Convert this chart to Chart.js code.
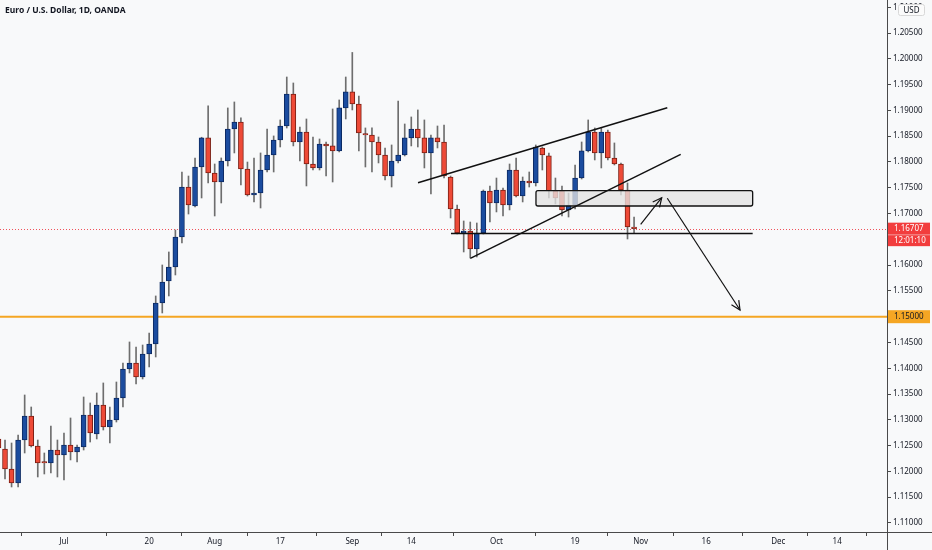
<!DOCTYPE html>
<html>
<head>
<meta charset="utf-8">
<script src="https://cdn.jsdelivr.net/npm/chart.js@4.4.0/dist/chart.umd.min.js"></script>
<style>
  html, body { margin: 0; padding: 0; background: #f8f9fa; }
  #wrap { width: 932px; height: 550px; position: relative; }
</style>
</head>
<body>
<div id="wrap"><canvas id="chart"></canvas></div>
<script>
// EUR/USD daily, 17 Jun - 30 Oct 2020 (one entry per trading day)
var opens = [
  1.12629, 1.12435, 1.12047, 1.11776, 1.12609, 1.13075, 1.12493, 1.12183, 1.12163, 1.12415,
  1.12319, 1.12512, 1.12377, 1.12474, 1.13094, 1.12726, 1.13288, 1.12861, 1.12997, 1.13424,
  1.13986, 1.14102, 1.13831, 1.14277, 1.14471, 1.15266, 1.15692, 1.15964, 1.16545, 1.17515,
  1.17147, 1.17903, 1.18466, 1.17787, 1.17612, 1.18019, 1.18640, 1.18776, 1.17864, 1.17360,
  1.17399, 1.17845, 1.18136, 1.18427, 1.18698, 1.19318, 1.18388, 1.18582, 1.17961, 1.17884,
  1.18349, 1.18311, 1.18214, 1.19048, 1.19358, 1.19125, 1.18543, 1.18524, 1.18388, 1.18136,
  1.17728, 1.18019, 1.18136, 1.18466, 1.18640, 1.18466, 1.18175, 1.18466, 1.18388, 1.17709,
  1.17089, 1.16623, 1.16662, 1.16313, 1.16623, 1.17437, 1.17205, 1.17457, 1.17166, 1.17845,
  1.17341, 1.17631, 1.17593, 1.18272, 1.18117, 1.17437, 1.17437, 1.17070, 1.17166, 1.17689,
  1.18214, 1.18582, 1.18175, 1.18582, 1.18078, 1.17961, 1.17457, 1.16739
];
var highs = [
  1.12687, 1.12609, 1.12551, 1.12706, 1.13482, 1.13249, 1.12609, 1.12357, 1.12881, 1.12609,
  1.12745, 1.13036, 1.12512, 1.13443, 1.13327, 1.13521, 1.13715, 1.13249, 1.13734, 1.14102,
  1.14510, 1.14413, 1.14451, 1.14684, 1.15402, 1.16003, 1.16255, 1.16681, 1.17806, 1.17728,
  1.18078, 1.18480, 1.19087, 1.17961, 1.18078, 1.19048, 1.19164, 1.18854, 1.17999, 1.18078,
  1.18175, 1.18640, 1.18505, 1.18815, 1.19648, 1.19532, 1.18679, 1.18834, 1.18485, 1.18446,
  1.18388, 1.19028, 1.19203, 1.19648, 1.20124, 1.19280, 1.18660, 1.18660, 1.18485, 1.18272,
  1.18330, 1.19183, 1.18737, 1.18873, 1.19009, 1.18815, 1.18524, 1.18698, 1.18718, 1.17728,
  1.17166, 1.16856, 1.16836, 1.16817, 1.17457, 1.17534, 1.17689, 1.17496, 1.17961, 1.18078,
  1.17709, 1.17806, 1.18330, 1.18291, 1.18175, 1.17689, 1.17534, 1.17399, 1.17942, 1.18388,
  1.18815, 1.18660, 1.18660, 1.18621, 1.18369, 1.17980, 1.17593, 1.16933
];
var lows = [
  1.12377, 1.11853, 1.11698, 1.11698, 1.12357, 1.12474, 1.11892, 1.11950, 1.11970, 1.11892,
  1.11834, 1.12222, 1.12183, 1.12415, 1.12570, 1.12629, 1.12803, 1.12551, 1.12958, 1.13249,
  1.13909, 1.13695, 1.13792, 1.14025, 1.14219, 1.15072, 1.15402, 1.15809, 1.16429, 1.16991,
  1.17128, 1.17302, 1.17593, 1.16953, 1.17205, 1.17922, 1.18175, 1.17554, 1.17340, 1.17225,
  1.17108, 1.17806, 1.17806, 1.18291, 1.18659, 1.18311, 1.18020, 1.17535, 1.17845, 1.17845,
  1.17728, 1.17612, 1.18195, 1.18834, 1.19009, 1.18214, 1.17903, 1.17806, 1.17981, 1.17650,
  1.17515, 1.17981, 1.18117, 1.18311, 1.18291, 1.17884, 1.17379, 1.18272, 1.17689, 1.16914,
  1.16604, 1.16255, 1.16139, 1.16158, 1.16604, 1.16836, 1.17031, 1.16953, 1.17070, 1.17321,
  1.17225, 1.17515, 1.17534, 1.17845, 1.17302, 1.17186, 1.16953, 1.16933, 1.17089, 1.17670,
  1.18195, 1.18039, 1.17884, 1.18039, 1.17942, 1.17360, 1.16507, 1.16623
];
var closes = [
  1.12454, 1.12047, 1.11776, 1.12609, 1.13075, 1.12493, 1.12163, 1.12163, 1.12415, 1.12319,
  1.12512, 1.12377, 1.12474, 1.13094, 1.12745, 1.13288, 1.12861, 1.12997, 1.13424, 1.13986,
  1.14102, 1.13831, 1.14277, 1.14471, 1.15266, 1.15673, 1.15964, 1.16545, 1.17515, 1.17166,
  1.17903, 1.18466, 1.17787, 1.17612, 1.18019, 1.18640, 1.18776, 1.17864, 1.17360, 1.17399,
  1.17845, 1.18136, 1.18427, 1.18698, 1.19318, 1.18388, 1.18582, 1.17961, 1.17884, 1.18349,
  1.18311, 1.18214, 1.19048, 1.19358, 1.19125, 1.18563, 1.18524, 1.18388, 1.18136, 1.17728,
  1.18019, 1.18136, 1.18466, 1.18640, 1.18466, 1.18175, 1.18466, 1.18388, 1.17728, 1.17089,
  1.16623, 1.16662, 1.16313, 1.16623, 1.17437, 1.17205, 1.17457, 1.17166, 1.17845, 1.17341,
  1.17631, 1.17593, 1.18291, 1.18136, 1.17437, 1.17302, 1.17070, 1.17166, 1.17689, 1.18214,
  1.18582, 1.18175, 1.18582, 1.18078, 1.17961, 1.17457, 1.16739, 1.16707
];

// right price scale (1.16500 is hidden behind the last-price labels)
var priceTicks = [1.11, 1.115, 1.12, 1.125, 1.13, 1.135, 1.14, 1.145, 1.15, 1.155,
                  1.16, 1.17, 1.175, 1.18, 1.185, 1.19, 1.195, 1.20, 1.205, 1.21];
// time scale: bar number (1 = 17 Jun) and its label
var timeTickBars = [11, 24, 34, 44, 55, 64, 77, 89, 99, 109, 120, 129];
var timeTickLabels = ['Jul', '20', 'Aug', '17', 'Sep', '14', 'Oct', '19', 'Nov', '16', 'Dec', '14'];

var lastPrice = 1.16707;
var countdown = '12:01:10';
var levelPrice = 1.15;

// drawings, in [bar, price]
var channelTop = [[65.03, 1.17598], [103.07, 1.19053]];
var channelBottom = [[73.01, 1.16132], [105.12, 1.18149]];
var supportLine = [[70.06, 1.16613], [116.10, 1.16613]];
var zoneBox = [[83.03, 1.17443], [116.10, 1.17146]];
var arrowUp = [[99.01, 1.16792], [102.22, 1.17307]];
var arrowDown = [[103.07, 1.17296], [114.17, 1.15130]];

var FONT = '"Noto Sans", "Liberation Sans", sans-serif';
var TEXT = '#131722';
var AXIS = '#4a4a4a';
var UP = '#1b4c9f', UP_EDGE = '#0c2a63';
var DOWN = '#ee4a37', DOWN_EDGE = '#7c1f14';

var bodies = [], wicks = [], fills = [], edges = [];
for (var i = 0; i < opens.length; i++) {
  bodies.push({ x: i + 1, y: [opens[i], closes[i]] });
  wicks.push({ x: i + 1, y: [lows[i], highs[i]] });
  var up = closes[i] >= opens[i];
  fills.push(up ? UP : DOWN);
  edges.push(up ? UP_EDGE : DOWN_EDGE);
}

function px(chart, p) {
  return [chart.scales.x.getPixelForValue(p[0]), chart.scales.y.getPixelForValue(p[1])];
}

function line(ctx, a, b) {
  ctx.beginPath();
  ctx.moveTo(a[0], a[1]);
  ctx.lineTo(b[0], b[1]);
  ctx.stroke();
}

function arrow(ctx, a, b) {
  line(ctx, a, b);
  var ang = Math.atan2(b[1] - a[1], b[0] - a[0]);
  var len = 10;
  ctx.beginPath();
  ctx.moveTo(b[0] - len * Math.cos(ang - 0.45), b[1] - len * Math.sin(ang - 0.45));
  ctx.lineTo(b[0], b[1]);
  ctx.lineTo(b[0] - len * Math.cos(ang + 0.45), b[1] - len * Math.sin(ang + 0.45));
  ctx.stroke();
}

function axisLabel(ctx, y, h, bg, fg, text, left, right) {
  ctx.fillStyle = bg;
  ctx.fillRect(left, y - h / 2, right - left, h);
  ctx.fillStyle = fg;
  ctx.textAlign = 'left';
  ctx.textBaseline = 'middle';
  ctx.fillText(text, left + 6, y + 0.5);
}

var tvPlugin = {
  id: 'tv',
  beforeDraw: function(chart) {
    var ctx = chart.ctx;
    ctx.save();
    ctx.fillStyle = '#f8f9fa';
    ctx.fillRect(0, 0, chart.width, chart.height);
    ctx.restore();
  },
  beforeDatasetsDraw: function(chart) {
    var ctx = chart.ctx, a = chart.chartArea;
    ctx.save();
    // 1.15 level
    var yl = chart.scales.y.getPixelForValue(levelPrice);
    ctx.strokeStyle = '#f5a623';
    ctx.lineWidth = 2;
    line(ctx, [a.left, yl], [a.right, yl]);
    // last price
    var yp = Math.round(chart.scales.y.getPixelForValue(lastPrice)) + 0.5;
    ctx.strokeStyle = '#f0525a';
    ctx.lineWidth = 1;
    ctx.setLineDash([1, 2]);
    line(ctx, [a.left, yp], [a.right, yp]);
    ctx.restore();
  },
  afterDatasetsDraw: function(chart) {
    var ctx = chart.ctx, a = chart.chartArea;
    ctx.save();
    ctx.beginPath();
    ctx.rect(a.left, a.top, a.right - a.left, a.bottom - a.top);
    ctx.clip();
    // zone
    var p1 = px(chart, zoneBox[0]), p2 = px(chart, zoneBox[1]);
    ctx.fillStyle = 'rgba(226,226,226,0.78)';
    ctx.strokeStyle = '#111';
    ctx.lineWidth = 1.3;
    ctx.beginPath();
    ctx.roundRect(p1[0], p1[1], p2[0] - p1[0], p2[1] - p1[1], 2);
    ctx.fill();
    ctx.stroke();
    // trend lines
    ctx.strokeStyle = '#111';
    ctx.lineWidth = 1.5;
    line(ctx, px(chart, channelTop[0]), px(chart, channelTop[1]));
    line(ctx, px(chart, channelBottom[0]), px(chart, channelBottom[1]));
    line(ctx, px(chart, supportLine[0]), px(chart, supportLine[1]));
    ctx.lineWidth = 1.2;
    arrow(ctx, px(chart, arrowUp[0]), px(chart, arrowUp[1]));
    arrow(ctx, px(chart, arrowDown[0]), px(chart, arrowDown[1]));
    ctx.restore();
  },
  afterDraw: function(chart) {
    var ctx = chart.ctx, a = chart.chartArea;
    ctx.save();
    // axis frame
    ctx.strokeStyle = AXIS;
    ctx.lineWidth = 1;
    line(ctx, [0, a.bottom + 0.5], [chart.width, a.bottom + 0.5]);
    line(ctx, [a.right + 0.5, 0], [a.right + 0.5, chart.height]);
    // price labels on the scale
    ctx.font = '8px ' + FONT;
    var ys = chart.scales.y;
    axisLabel(ctx, ys.getPixelForValue(levelPrice), 13, '#f5a623', TEXT,
      levelPrice.toFixed(5), a.right + 1, chart.width - 2);
    var yp = ys.getPixelForValue(lastPrice);
    axisLabel(ctx, yp, 12, '#f23d3d', '#fff', lastPrice.toFixed(5), a.right + 1, chart.width - 2);
    axisLabel(ctx, yp + 12, 11, '#f23d3d', '#fff', countdown, a.right + 1, chart.width - 2);
    // currency badge
    ctx.fillStyle = '#fbfbfb';
    ctx.strokeStyle = '#d8d8d8';
    ctx.beginPath();
    ctx.roundRect(898.5, 4.5, 26, 11, 2);
    ctx.fill();
    ctx.stroke();
    ctx.fillStyle = TEXT;
    ctx.textAlign = 'center';
    ctx.textBaseline = 'middle';
    ctx.fillText('USD', 911.5, 10.5);
    // symbol title
    ctx.font = 'bold 8.5px ' + FONT;
    ctx.textAlign = 'left';
    ctx.fillText('Euro / U.S. Dollar, 1D, OANDA', 5, 10.5);
    ctx.restore();
  }
};

new Chart(document.getElementById('chart'), {
  type: 'bar',
  data: {
    datasets: [{
      label: 'body',
      data: bodies,
      backgroundColor: fills,
      borderColor: edges,
      borderWidth: 1,
      borderSkipped: false,
      barThickness: 5,
      minBarLength: 1.5,
      grouped: false,
      order: 0
    }, {
      label: 'wick',
      data: wicks,
      backgroundColor: '#6e6e6e',
      borderWidth: 0,
      barThickness: 1,
      grouped: false,
      order: 1
    }]
  },
  options: {
    responsive: true,
    maintainAspectRatio: false,
    animation: false,
    layout: { padding: 0 },
    plugins: { legend: { display: false }, tooltip: { enabled: false } },
    scales: {
      x: {
        type: 'linear',
        min: 1.236,
        max: 136.6,
        offset: false,
        grid: { drawOnChartArea: false, drawTicks: true, tickLength: 4, color: AXIS },
        border: { display: false },
        afterBuildTicks: function(s) {
          s.ticks = timeTickBars.map(function(v) { return { value: v }; });
        },
        afterFit: function(s) {
          s.height = 18;
          s.paddingLeft = 0;
          s.paddingRight = 0;
        },
        ticks: {
          autoSkip: false,
          maxRotation: 0,
          padding: 1,
          color: TEXT,
          font: { family: FONT, size: 8 },
          callback: function(v) {
            var k = timeTickBars.indexOf(v);
            return k < 0 ? '' : timeTickLabels[k];
          }
        }
      },
      y: {
        type: 'linear',
        position: 'right',
        min: 1.10825,
        max: 1.21141,
        grid: { drawOnChartArea: false, drawTicks: true, tickLength: 4, color: AXIS },
        border: { display: false },
        afterBuildTicks: function(s) {
          s.ticks = priceTicks.map(function(v) { return { value: v }; });
        },
        afterFit: function(s) {
          s.width = 45;
          s.paddingTop = 0;
          s.paddingBottom = 0;
        },
        ticks: {
          autoSkip: false,
          padding: 2,
          color: TEXT,
          font: { family: FONT, size: 8 },
          callback: function(v) { return v.toFixed(5); }
        }
      }
    }
  },
  plugins: [tvPlugin]
});
</script>
</body>
</html>
